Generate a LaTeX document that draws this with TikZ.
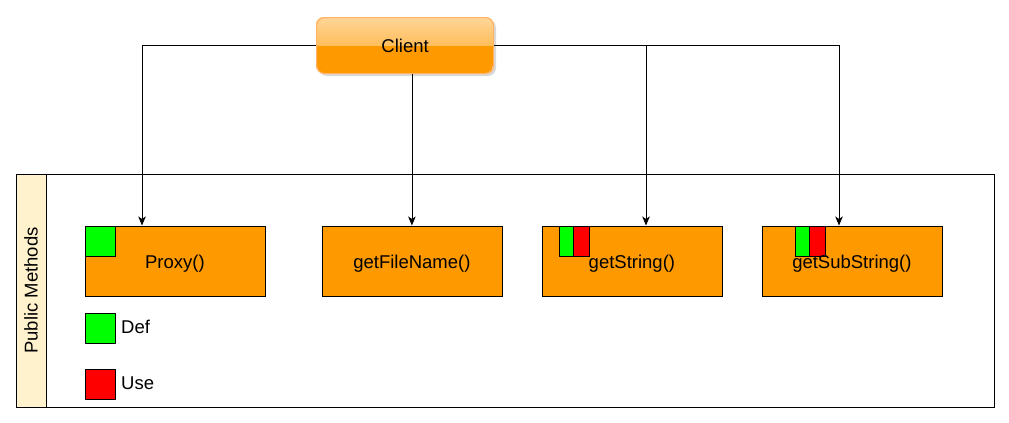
\documentclass[tikz,border=0pt]{standalone}
\usepackage{fontspec}
\setmainfont{Liberation Sans}
\usetikzlibrary{arrows.meta,calc}
\definecolor{orangeF}{HTML}{FF9900}
\definecolor{orangeTop}{HTML}{FFD699}
\definecolor{orangeMid}{HTML}{FFBE5C}
\definecolor{orangeLine}{HTML}{FFB366}
\definecolor{greenF}{HTML}{00FF00}
\definecolor{redF}{HTML}{FF0000}
\definecolor{headF}{HTML}{FFF2CC}
\tikzset{
  method/.style={draw=black, fill=orangeF, line width=0.8bp, minimum width=180bp, minimum height=70bp, anchor=north west, inner sep=0pt},
  mark sq/.style={draw=black, line width=0.8bp, inner sep=0pt, anchor=north west},
  conn/.style={draw=black, line width=0.8bp, -{Stealth[length=9bp,width=7.5bp,inset=2.5bp]}},
  txt/.style={font=\fontsize{18.5bp}{22bp}\selectfont, inner sep=0pt}
}
\begin{document}
\begin{tikzpicture}[x=1bp,y=-1bp]
\useasboundingbox (0,0) rectangle (1009,422);
% container
\node[draw=black, line width=0.8bp, anchor=north west, minimum width=978bp, minimum height=233bp, inner sep=0pt] (cont) at (15.5,173.5) {};
\node[draw=black, fill=headF, line width=0.8bp, anchor=north west, minimum width=30bp, minimum height=233bp, inner sep=0pt] (head) at (15.5,173.5) {};
\node[txt, rotate=90] (headtxt) at (head.center) {Public Methods};
% methods
\node[method] (proxy) at (84.5,225.5) {};
\node[method] (fname) at (321.5,225.5) {};
\node[method] (gstr) at (541.5,225.5) {};
\node[method] (gsub) at (761.5,225.5) {};
% def/use marks
\node[mark sq, fill=greenF, minimum width=30bp, minimum height=30bp] (pdef) at (84.5,225.5) {};
\node[mark sq, fill=greenF, minimum width=14bp, minimum height=30bp] (sdef) at (558.5,225.5) {};
\node[mark sq, fill=redF, minimum width=16bp, minimum height=30bp] (suse) at (572.5,225.5) {};
\node[mark sq, fill=greenF, minimum width=14bp, minimum height=30bp] (bdef) at (794.5,225.5) {};
\node[mark sq, fill=redF, minimum width=16bp, minimum height=30bp] (buse) at (808.5,225.5) {};
% method labels
\node[txt] (proxyt) at ([yshift=-3bp]proxy.center) {Proxy()};
\node[txt] (fnamet) at ([yshift=-3bp]fname.center) {getFileName()};
\node[txt] (gstrt) at ([yshift=-3bp]gstr.center) {getString()};
\node[txt] (gsubt) at ([yshift=-3bp]gsub.center) {getSubString()};
% legend
\node[mark sq, fill=greenF, minimum width=30bp, minimum height=30bp] (ldef) at (84.5,312.5) {};
\node[txt, anchor=west] (ldeft) at (121,327) {Def};
\node[mark sq, fill=redF, minimum width=30bp, minimum height=30bp] (luse) at (84.5,368.5) {};
\node[txt, anchor=west] (luset) at (121,383) {Use};
% client
\fill[black, opacity=0.15, rounded corners=8bp] (319,20) rectangle (496,76);
\begin{scope}
\clip[rounded corners=8bp] (316,17) rectangle (493,73);
\fill[orangeF] (316,17) rectangle (493,73);
\shade[top color=orangeTop, bottom color=orangeMid] (316,17) rectangle (493,45);
\end{scope}
\node[draw=orangeLine, line width=1.2bp, rounded corners=8bp, minimum width=177bp, minimum height=56bp, anchor=north west, inner sep=0pt, font=\fontsize{18.5bp}{22bp}\selectfont] (client) at (316,17) {Client};
% connectors
\coordinate (pin) at ($(proxy.north west)+(57.5,0)$);
\coordinate (sin) at ($(gstr.north west)+(104.5,0)$);
\coordinate (bin) at ($(gsub.north west)+(77.5,0)$);
\draw[conn] (client.west) -| (pin);
\draw[conn] (client.south -| fname.north) -- (fname.north);
\draw[conn] (client.east) -| (sin);
\draw[conn] (client.east) -| (bin);
\end{tikzpicture}
\end{document}
